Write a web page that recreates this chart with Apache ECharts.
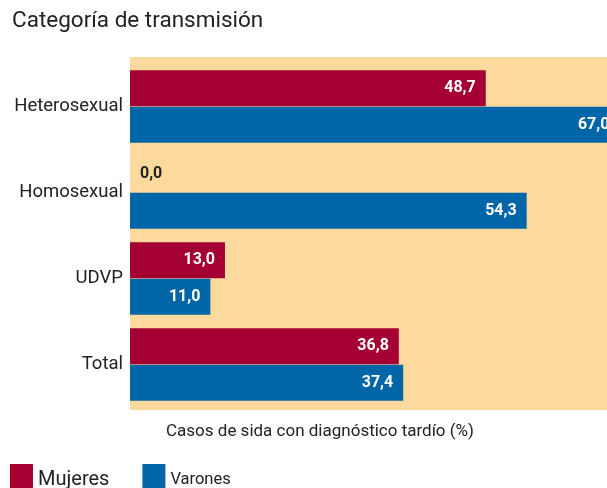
<!DOCTYPE html>
<html>
<head>
<meta charset="utf-8">
<script src="https://cdn.jsdelivr.net/npm/echarts@6/dist/echarts.min.js"></script>
<style>
  html, body { margin: 0; padding: 0; background: #fff; }
  #chart { width: 607px; height: 488px; }
</style>
</head>
<body>
<div id="chart"></div>
<script>
var categories = ['Heterosexual', 'Homosexual', 'UDVP', 'Total'];
var mujeres = [48.7, 0.0, 13.0, 36.8];
var varones = [67.0, 54.3, 11.0, 37.4];

var font = 'Roboto, sans-serif';

function fmt(p) {
    return p.value.toFixed(1).replace('.', ',');
}

function barLabel() {
    return {
        show: true,
        position: 'insideRight',
        distance: 10,
        color: '#fff',
        fontWeight: 'bold',
        fontSize: 16,
        fontFamily: font,
        formatter: fmt
    };
}

// zero values get a dark label outside the bar
function withZero(values) {
    return values.map(function(v) {
        if (v === 0) {
            return { value: v, label: { position: 'right', color: '#222' } };
        }
        return v;
    });
}

var chart = echarts.init(document.getElementById('chart'));

var option = {
    animation: false,
    title: {
        text: 'Categoría de transmisión',
        left: 7,
        top: 5,
        textStyle: { fontSize: 22.5, fontWeight: 'normal', color: '#222', fontFamily: font }
    },
    legend: {
        left: 10,
        top: 464,
        padding: 0,
        itemWidth: 23,
        itemHeight: 24,
        itemGap: 33,
        icon: 'rect',
        data: ['Mujeres', 'Varones'],
        formatter: function(name) {
            return name === 'Mujeres' ? '{a|' + name + '}' : '{b|' + name + '}';
        },
        textStyle: {
            color: '#222',
            fontFamily: font,
            rich: {
                a: { fontSize: 20, fontFamily: font, color: '#222', padding: [8, 0, 0, 0] },
                b: { fontSize: 16.5, fontFamily: font, color: '#222', padding: [8, 0, 0, 0] }
            }
        }
    },
    graphic: [
        {
            type: 'rect',
            z: -10,
            shape: { x: 130, y: 57, width: 477, height: 353 },
            style: { fill: '#fcd99c' }
        },
        {
            type: 'text',
            x: 320,
            y: 432,
            style: {
                text: 'Casos de sida con diagnóstico tardío (%)',
                fill: '#222',
                font: '17px ' + font,
                align: 'center',
                verticalAlign: 'middle'
            }
        }
    ],
    grid: { left: 130, right: 0, top: 63.5, bottom: 80.5, containLabel: false },
    xAxis: {
        type: 'value',
        min: 0,
        max: 65.3,
        axisLabel: { show: false },
        axisLine: { show: false },
        axisTick: { show: false },
        splitLine: { show: false }
    },
    yAxis: {
        type: 'category',
        inverse: true,
        data: categories,
        axisLine: { show: false },
        axisTick: { show: false },
        axisLabel: { margin: 7, fontSize: 18.5, color: '#222', fontFamily: font }
    },
    series: [
        {
            name: 'Mujeres',
            type: 'bar',
            data: withZero(mujeres),
            barWidth: 36,
            barGap: '2%',
            clip: false,
            itemStyle: { color: '#a50034' },
            label: barLabel()
        },
        {
            name: 'Varones',
            type: 'bar',
            data: withZero(varones),
            barWidth: 36,
            clip: false,
            itemStyle: { color: '#0066a8' },
            label: barLabel()
        }
    ]
};

chart.setOption(option);
</script>
</body>
</html>
